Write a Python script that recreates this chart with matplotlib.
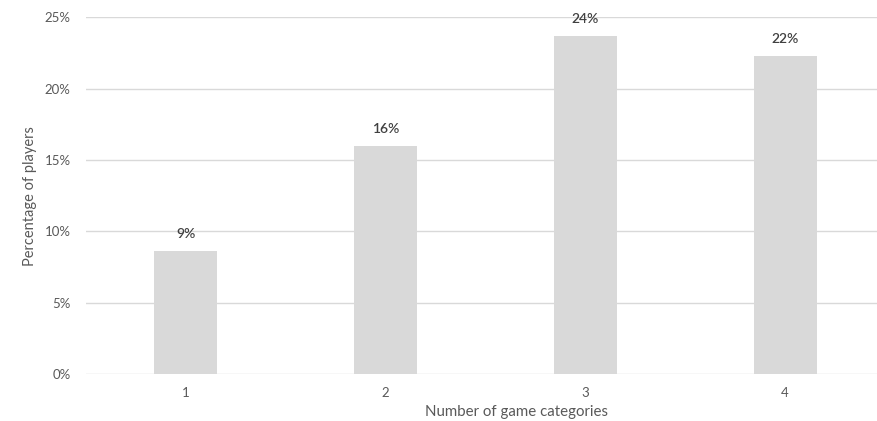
import matplotlib
matplotlib.use("Agg")
import matplotlib.pyplot as plt
from matplotlib.ticker import PercentFormatter

# Share of players by number of game categories played
categories = ["1", "2", "3", "4"]
shares = [8.6, 16.0, 23.7, 22.3]  # percent
yticks = [0, 5, 10, 15, 20, 25]

plt.rcParams['font.family'] = ['Lato', 'DejaVu Sans']

fig = plt.figure(figsize=(8.77, 4.21), dpi=100)
# plot area runs slightly past the right edge of the canvas
ax = fig.add_axes([86 / 877, 1 - 374.3 / 421, 799 / 877, 357 / 421])

x = range(len(categories))
ax.bar(x, shares, width=0.315, color='#d9d9d9', zorder=2)

for xi, v in zip(x, shares):
    ax.annotate(f"{v:.0f}%", (xi, v), xytext=(0, 8), textcoords='offset points',
                ha='center', va='bottom', fontsize=10, color='#404040',
                fontweight='semibold')

ax.set_xlim(-0.5, len(categories) - 0.5)
ax.set_ylim(0, 25)
ax.set_yticks(yticks)
ax.yaxis.set_major_formatter(PercentFormatter(decimals=0))
ax.set_xticks(list(x))
ax.set_xticklabels(categories)

ax.grid(axis='y', color='#d9d9d9', lw=1, zorder=0)
for s in ax.spines.values():
    s.set_visible(False)
ax.tick_params(length=0, colors='#595959', labelsize=9.5)
ax.tick_params(axis='y', pad=11)
ax.tick_params(axis='x', pad=9)

ax.set_xlabel("Number of game categories", fontsize=10.8, color='#595959')
ax.xaxis.set_label_coords(0.539, -0.085)
ax.set_ylabel("Percentage of players", fontsize=10.5, color='#595959')
ax.yaxis.set_label_coords(-0.061, 0.5)

fig.savefig("out.png", dpi=100)
